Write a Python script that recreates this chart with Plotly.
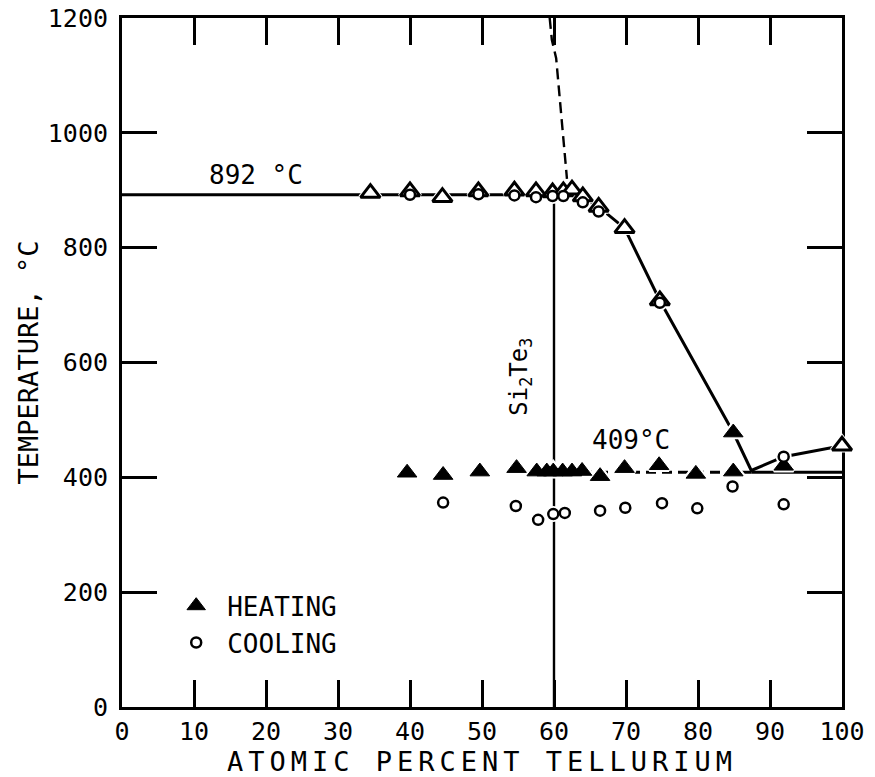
import plotly.graph_objects as go

FONT = "DejaVu Sans Mono"

# ---- data (atomic % Te, temperature in deg C) ----
# liquidus arrests recorded on heating (open triangles)
liq_heat_x = [34.5, 40.0, 44.5, 49.5, 54.5, 57.5, 59.8, 61.3, 62.5, 64.0, 66.2, 69.8, 74.7, 100.0]
liq_heat_T = [895, 898, 888, 898, 899, 898, 896, 898, 901, 889, 871, 834, 708, 455]

# eutectic / solidus arrests recorded on heating (filled triangles)
heat_x = [39.6, 44.6, 49.7, 54.8, 57.6, 59.0, 59.9, 61.2, 62.5, 63.9, 66.4, 69.8, 74.6, 79.7, 84.9, 84.9, 91.9]
heat_T = [408, 404, 410, 416, 410, 410, 410, 410, 410, 411, 402, 416, 421, 406, 410, 478, 420]

# arrests recorded on cooling (open circles)
cool_x = [40.0, 49.5, 54.5, 57.5, 59.8, 61.3, 64.0, 66.2, 74.7, 91.9,
          44.6, 54.7, 57.8, 59.9, 61.5, 66.4, 69.9, 75.0, 79.9, 84.8, 91.9]
cool_T = [892, 893, 891, 888, 890, 890, 879, 863, 704, 436,
          356, 350, 326, 336, 338, 342, 347, 355, 346, 384, 353]

# liquidus curve
liquidus_x = [0, 34.5, 40, 44.5, 49.5, 54.5, 57.5, 59.8, 61.3, 62.5, 64.0, 66.2, 69.8, 74.7, 84.9, 87.4, 91.9, 100]
liquidus_T = [892, 892, 892, 892, 892, 892, 892, 892, 892, 892, 886, 871, 834, 708, 478, 412, 436, 455]

# eutectic isotherm
eutectic_T = 409
eut_dash_x = [55.0, 87.4]
eut_solid_x = [87.4, 100.0]

# Si2Te3 composition line and its uncertain upper boundary
comp_x = [60, 60]
comp_T = [0, 878]
upper_x = [59.4, 59.7, 60.3, 60.6, 61.0, 61.3, 61.8]
upper_T = [1200, 1162, 1130, 1087, 1040, 988, 920]

x_ticks = list(range(0, 101, 10))
y_ticks = list(range(0, 1201, 200))

LW = 3
fig = go.Figure()

def line(x, y, dash="solid", width=LW):
    fig.add_trace(go.Scatter(x=x, y=y, mode="lines", showlegend=False, hoverinfo="skip",
                             line=dict(color="black", width=width, dash=dash)))

line(liquidus_x, liquidus_T)
line(eut_dash_x, [eutectic_T] * 2, dash="10px,6px")
line(eut_solid_x, [eutectic_T] * 2)
line(comp_x, comp_T, width=2.4)
line(upper_x, upper_T, dash="11px,6px", width=2.4)

# white halos so the lines break around the symbols
def halo(x, y, symbol, size):
    fig.add_trace(go.Scatter(x=x, y=y, mode="markers", showlegend=False, hoverinfo="skip",
                             cliponaxis=False,
                             marker=dict(symbol=symbol, size=size, color="white",
                                         line=dict(color="white", width=5))))

TRI = 17
halo(liq_heat_x, liq_heat_T, "triangle-up", TRI)
halo(heat_x, heat_T, "triangle-up", TRI)
halo(cool_x, cool_T, "circle", 11)

fig.add_trace(go.Scatter(x=liq_heat_x, y=liq_heat_T, mode="markers", showlegend=False,
                         cliponaxis=False,
                         marker=dict(symbol="triangle-up", size=TRI, color="white",
                                     line=dict(color="black", width=3))))
fig.add_trace(go.Scatter(x=heat_x, y=heat_T, mode="markers", name="HEATING",
                         legendgroup="h", cliponaxis=False,
                         marker=dict(symbol="triangle-up", size=TRI, color="black",
                                     line=dict(color="black", width=1))))
fig.add_trace(go.Scatter(x=cool_x, y=cool_T, mode="markers", name="COOLING",
                         legendgroup="c", cliponaxis=False,
                         marker=dict(symbol="circle", size=10, color="white",
                                     line=dict(color="black", width=2.5))))

ann_font = dict(family=FONT, size=26, color="black")
fig.add_annotation(x=18.6, y=927, text="892 °C", showarrow=False, font=ann_font)
fig.add_annotation(x=70.7, y=465, text="409°C", showarrow=False, font=ann_font)
fig.add_annotation(x=55.4, y=575, text="Si<sub>2</sub>Te<sub>3</sub>", showarrow=False,
                   textangle=-90, font=dict(family=FONT, size=24, color="black"))

axis_common = dict(showline=True, linecolor="black", linewidth=3, mirror="ticks",
                   ticks="inside", tickcolor="black", tickwidth=2.5,
                   showgrid=False, zeroline=False, layer="below traces",
                   automargin=False,
                   tickfont=dict(family=FONT, size=25, color="black"))

fig.update_xaxes(range=[0, 100], tickvals=x_ticks, ticktext=[str(v) for v in x_ticks],
                 ticklen=27, ticklabelstandoff=0,
                 title=dict(text="ATOMIC PERCENT TELLURIUM", standoff=0,
                            font=dict(family=FONT, size=27, color="black")),
                 **axis_common)
fig.update_yaxes(range=[0, 1200], tickvals=y_ticks, ticktext=[str(v) for v in y_ticks],
                 ticklen=35, ticklabelstandoff=6,
                 title=dict(text="TEMPERATURE, °C", standoff=2,
                            font=dict(family=FONT, size=27, color="black")),
                 **axis_common)

fig.update_layout(
    width=875, height=777,
    margin=dict(l=122, r=33, t=18, b=70),
    paper_bgcolor="white", plot_bgcolor="white",
    legend=dict(x=0.06, y=0.181, xanchor="left", yanchor="top",
                font=dict(family=FONT, size=26, color="black"),
                itemwidth=52, tracegroupgap=0, bgcolor="rgba(0,0,0,0)"),
)

# widen the lettering of the x-axis title
spacing_js = """
document.querySelectorAll('.xtitle').forEach(function (t) {
    t.style.letterSpacing = '5px';
});
"""

fig.write_html("out.html", post_script=spacing_js)
